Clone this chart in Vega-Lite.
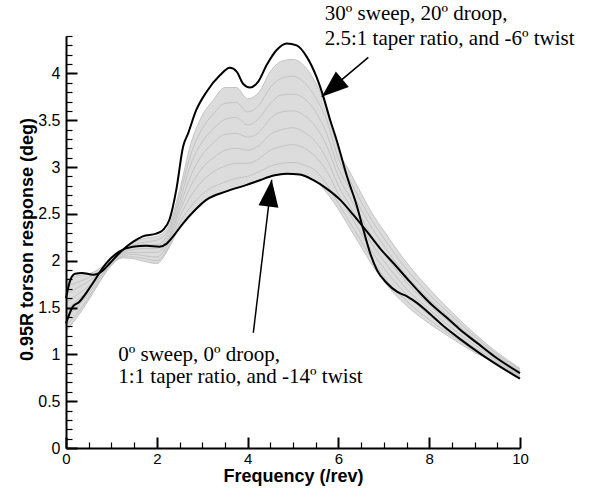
{
  "$schema": "https://vega.github.io/schema/vega-lite/v6.json",
  "width": 454,
  "height": 412,
  "autosize": {"type": "none"},
  "padding": {"left": 66, "top": 36, "right": 69, "bottom": 40},
  "background": "white",
  "config": {"view": {"stroke": null}},
  "resolve": {"axis": {"x": "independent", "y": "independent"}},
  "datasets": {
    "band": [
      {"x": 0, "lo": 1.25, "hi": 1.80, "g1": 1.31, "g2": 1.39, "g3": 1.47, "g4": 1.55, "g5": 1.64, "g6": 1.72},
      {"x": 0.25, "lo": 1.40, "hi": 1.84, "g1": 1.44, "g2": 1.51, "g3": 1.58, "g4": 1.64, "g5": 1.71, "g6": 1.77},
      {"x": 0.5, "lo": 1.58, "hi": 1.86, "g1": 1.61, "g2": 1.65, "g3": 1.69, "g4": 1.73, "g5": 1.78, "g6": 1.82},
      {"x": 0.75, "lo": 1.78, "hi": 1.92, "g1": 1.79, "g2": 1.82, "g3": 1.84, "g4": 1.86, "g5": 1.88, "g6": 1.90},
      {"x": 1.0, "lo": 1.95, "hi": 2.03, "g1": 1.96, "g2": 1.97, "g3": 1.98, "g4": 1.99, "g5": 2.01, "g6": 2.02},
      {"x": 1.25, "lo": 2.03, "hi": 2.12, "g1": 2.04, "g2": 2.05, "g3": 2.07, "g4": 2.08, "g5": 2.09, "g6": 2.11},
      {"x": 1.5, "lo": 2.02, "hi": 2.20, "g1": 2.04, "g2": 2.07, "g3": 2.09, "g4": 2.12, "g5": 2.15, "g6": 2.17},
      {"x": 1.75, "lo": 1.99, "hi": 2.24, "g1": 2.02, "g2": 2.05, "g3": 2.09, "g4": 2.13, "g5": 2.17, "g6": 2.20},
      {"x": 2.0, "lo": 1.97, "hi": 2.26, "g1": 2.00, "g2": 2.04, "g3": 2.09, "g4": 2.13, "g5": 2.17, "g6": 2.22},
      {"x": 2.25, "lo": 2.12, "hi": 2.36, "g1": 2.14, "g2": 2.18, "g3": 2.22, "g4": 2.25, "g5": 2.29, "g6": 2.32},
      {"x": 2.5, "lo": 2.36, "hi": 2.75, "g1": 2.40, "g2": 2.46, "g3": 2.52, "g4": 2.57, "g5": 2.63, "g6": 2.69},
      {"x": 2.75, "lo": 2.50, "hi": 3.25, "g1": 2.58, "g2": 2.69, "g3": 2.80, "g4": 2.91, "g5": 3.03, "g6": 3.14},
      {"x": 3.0, "lo": 2.62, "hi": 3.55, "g1": 2.71, "g2": 2.85, "g3": 2.99, "g4": 3.13, "g5": 3.27, "g6": 3.41},
      {"x": 3.25, "lo": 2.69, "hi": 3.72, "g1": 2.79, "g2": 2.95, "g3": 3.10, "g4": 3.26, "g5": 3.41, "g6": 3.57},
      {"x": 3.5, "lo": 2.73, "hi": 3.85, "g1": 2.84, "g2": 3.01, "g3": 3.18, "g4": 3.35, "g5": 3.51, "g6": 3.68},
      {"x": 3.75, "lo": 2.77, "hi": 3.85, "g1": 2.88, "g2": 3.04, "g3": 3.20, "g4": 3.36, "g5": 3.53, "g6": 3.69},
      {"x": 4.0, "lo": 2.81, "hi": 3.73, "g1": 2.90, "g2": 3.04, "g3": 3.18, "g4": 3.32, "g5": 3.45, "g6": 3.59},
      {"x": 4.25, "lo": 2.85, "hi": 3.80, "g1": 2.95, "g2": 3.09, "g3": 3.23, "g4": 3.37, "g5": 3.52, "g6": 3.66},
      {"x": 4.5, "lo": 2.90, "hi": 4.02, "g1": 3.01, "g2": 3.18, "g3": 3.35, "g4": 3.52, "g5": 3.68, "g6": 3.85},
      {"x": 4.75, "lo": 2.92, "hi": 4.13, "g1": 3.04, "g2": 3.22, "g3": 3.40, "g4": 3.59, "g5": 3.77, "g6": 3.95},
      {"x": 5.0, "lo": 2.93, "hi": 4.15, "g1": 3.05, "g2": 3.24, "g3": 3.42, "g4": 3.60, "g5": 3.78, "g6": 3.97},
      {"x": 5.25, "lo": 2.90, "hi": 4.08, "g1": 3.02, "g2": 3.20, "g3": 3.37, "g4": 3.55, "g5": 3.73, "g6": 3.90},
      {"x": 5.5, "lo": 2.85, "hi": 3.90, "g1": 2.96, "g2": 3.11, "g3": 3.27, "g4": 3.43, "g5": 3.59, "g6": 3.74},
      {"x": 5.75, "lo": 2.72, "hi": 3.62, "g1": 2.81, "g2": 2.95, "g3": 3.08, "g4": 3.22, "g5": 3.35, "g6": 3.49},
      {"x": 6.0, "lo": 2.55, "hi": 3.18, "g1": 2.61, "g2": 2.71, "g3": 2.80, "g4": 2.90, "g5": 2.99, "g6": 3.09},
      {"x": 6.25, "lo": 2.35, "hi": 2.95, "g1": 2.41, "g2": 2.50, "g3": 2.59, "g4": 2.68, "g5": 2.77, "g6": 2.86},
      {"x": 6.5, "lo": 2.15, "hi": 2.72, "g1": 2.21, "g2": 2.29, "g3": 2.38, "g4": 2.46, "g5": 2.55, "g6": 2.63},
      {"x": 6.75, "lo": 1.95, "hi": 2.50, "g1": 2.01, "g2": 2.09, "g3": 2.17, "g4": 2.25, "g5": 2.34, "g6": 2.42},
      {"x": 7.0, "lo": 1.78, "hi": 2.32, "g1": 1.83, "g2": 1.92, "g3": 2.00, "g4": 2.08, "g5": 2.16, "g6": 2.24},
      {"x": 7.5, "lo": 1.52, "hi": 1.98, "g1": 1.57, "g2": 1.64, "g3": 1.70, "g4": 1.77, "g5": 1.84, "g6": 1.91},
      {"x": 8.0, "lo": 1.33, "hi": 1.70, "g1": 1.37, "g2": 1.42, "g3": 1.48, "g4": 1.53, "g5": 1.59, "g6": 1.64},
      {"x": 8.5, "lo": 1.17, "hi": 1.45, "g1": 1.20, "g2": 1.24, "g3": 1.28, "g4": 1.32, "g5": 1.37, "g6": 1.41},
      {"x": 9.0, "lo": 1.02, "hi": 1.22, "g1": 1.04, "g2": 1.07, "g3": 1.10, "g4": 1.13, "g5": 1.16, "g6": 1.19},
      {"x": 9.5, "lo": 0.90, "hi": 1.02, "g1": 0.91, "g2": 0.93, "g3": 0.95, "g4": 0.97, "g5": 0.98, "g6": 1.00},
      {"x": 10, "lo": 0.76, "hi": 0.85, "g1": 0.77, "g2": 0.78, "g3": 0.80, "g4": 0.81, "g5": 0.82, "g6": 0.84}
    ],
    "black": [
      {"c": "a", "x": 0, "y": 1.60}, {"c": "a", "x": 0.1, "y": 1.80}, {"c": "a", "x": 0.2, "y": 1.86},
      {"c": "a", "x": 0.35, "y": 1.87}, {"c": "a", "x": 0.6, "y": 1.85}, {"c": "a", "x": 0.8, "y": 1.89},
      {"c": "a", "x": 0.96, "y": 1.97}, {"c": "a", "x": 1.15, "y": 2.07}, {"c": "a", "x": 1.33, "y": 2.15},
      {"c": "a", "x": 1.5, "y": 2.21}, {"c": "a", "x": 1.69, "y": 2.26}, {"c": "a", "x": 1.99, "y": 2.29},
      {"c": "a", "x": 2.14, "y": 2.33}, {"c": "a", "x": 2.28, "y": 2.44}, {"c": "a", "x": 2.43, "y": 2.76},
      {"c": "a", "x": 2.58, "y": 3.22}, {"c": "a", "x": 2.69, "y": 3.36}, {"c": "a", "x": 2.87, "y": 3.61},
      {"c": "a", "x": 3.09, "y": 3.80}, {"c": "a", "x": 3.39, "y": 3.98}, {"c": "a", "x": 3.61, "y": 4.06},
      {"c": "a", "x": 3.76, "y": 4.02}, {"c": "a", "x": 3.90, "y": 3.89}, {"c": "a", "x": 4.05, "y": 3.85},
      {"c": "a", "x": 4.23, "y": 3.91}, {"c": "a", "x": 4.42, "y": 4.09}, {"c": "a", "x": 4.64, "y": 4.25},
      {"c": "a", "x": 4.86, "y": 4.32}, {"c": "a", "x": 5.08, "y": 4.30}, {"c": "a", "x": 5.30, "y": 4.18},
      {"c": "a", "x": 5.52, "y": 3.96}, {"c": "a", "x": 5.67, "y": 3.75}, {"c": "a", "x": 5.82, "y": 3.50},
      {"c": "a", "x": 5.96, "y": 3.29}, {"c": "a", "x": 6.19, "y": 2.90}, {"c": "a", "x": 6.41, "y": 2.58},
      {"c": "a", "x": 6.55, "y": 2.33}, {"c": "a", "x": 6.70, "y": 2.08}, {"c": "a", "x": 6.85, "y": 1.90},
      {"c": "a", "x": 7.07, "y": 1.76}, {"c": "a", "x": 7.29, "y": 1.67}, {"c": "a", "x": 7.51, "y": 1.62},
      {"c": "a", "x": 7.73, "y": 1.55}, {"c": "a", "x": 7.95, "y": 1.46}, {"c": "a", "x": 8.32, "y": 1.30},
      {"c": "a", "x": 8.69, "y": 1.16}, {"c": "a", "x": 9.06, "y": 1.03}, {"c": "a", "x": 9.43, "y": 0.91},
      {"c": "a", "x": 10, "y": 0.74},
      {"c": "b", "x": 0, "y": 1.33}, {"c": "b", "x": 0.15, "y": 1.51}, {"c": "b", "x": 0.29, "y": 1.56},
      {"c": "b", "x": 0.59, "y": 1.76}, {"c": "b", "x": 0.88, "y": 1.97}, {"c": "b", "x": 1.18, "y": 2.10},
      {"c": "b", "x": 1.47, "y": 2.15}, {"c": "b", "x": 1.77, "y": 2.16}, {"c": "b", "x": 2.06, "y": 2.15},
      {"c": "b", "x": 2.21, "y": 2.18}, {"c": "b", "x": 2.36, "y": 2.26}, {"c": "b", "x": 2.58, "y": 2.40},
      {"c": "b", "x": 2.80, "y": 2.52}, {"c": "b", "x": 3.09, "y": 2.65}, {"c": "b", "x": 3.53, "y": 2.74},
      {"c": "b", "x": 3.98, "y": 2.81}, {"c": "b", "x": 4.27, "y": 2.86}, {"c": "b", "x": 4.57, "y": 2.91},
      {"c": "b", "x": 4.86, "y": 2.93}, {"c": "b", "x": 5.15, "y": 2.92}, {"c": "b", "x": 5.45, "y": 2.86},
      {"c": "b", "x": 5.74, "y": 2.77}, {"c": "b", "x": 6.04, "y": 2.65}, {"c": "b", "x": 6.33, "y": 2.49},
      {"c": "b", "x": 6.63, "y": 2.31}, {"c": "b", "x": 6.92, "y": 2.13}, {"c": "b", "x": 7.22, "y": 1.97},
      {"c": "b", "x": 7.51, "y": 1.81}, {"c": "b", "x": 7.81, "y": 1.65}, {"c": "b", "x": 8.10, "y": 1.51},
      {"c": "b", "x": 8.39, "y": 1.39}, {"c": "b", "x": 8.69, "y": 1.26}, {"c": "b", "x": 9.06, "y": 1.12},
      {"c": "b", "x": 9.43, "y": 0.98}, {"c": "b", "x": 10, "y": 0.80}
    ],
    "arrows": [
      {"x": 6.659, "y": 4.172, "x2": 5.632, "y2": 3.752},
      {"x": 4.126, "y": 1.231, "x2": 4.531, "y2": 2.865}
    ],
    "notes": [
      {"x": 5.70, "y": 4.568, "t": "30º sweep, 20º droop,"},
      {"x": 5.70, "y": 4.309, "t": "2.5:1 taper ratio, and -6º twist"},
      {"x": 1.15, "y": 0.933, "t": "0º sweep, 0º droop,"},
      {"x": 1.15, "y": 0.694, "t": "1:1 taper ratio, and -14º twist"}
    ]
  },
  "layer": [
    {
      "data": {"name": "band"},
      "mark": {"type": "area", "color": "#dcdcdc", "interpolate": "monotone"},
      "encoding": {
        "x": {
          "field": "x", "type": "quantitative",
          "scale": {"domain": [0, 10], "nice": false},
          "axis": {
            "orient": "bottom", "zindex": 1,
            "title": "Frequency (/rev)",
            "values": [0, 2, 4, 6, 8, 10],
            "format": "~r",
            "tickSize": -11, "tickWidth": 2, "tickColor": "black",
            "domainColor": "black", "domainWidth": 2,
            "labelFont": "Liberation Sans", "labelFontSize": 15, "labelColor": "black",
            "labelPadding": 14, "labelFlush": false, "labelOverlap": false,
            "titleFont": "Liberation Sans", "titleFontSize": 18, "titleFontWeight": "bold", "titleColor": "black",
            "titleY": 33, "titleBaseline": "alphabetic",
            "grid": false
          }
        },
        "y": {
          "field": "lo", "type": "quantitative",
          "scale": {"domain": [0, 4.4], "nice": false},
          "axis": {
            "orient": "left", "zindex": 1,
            "title": "0.95R torson response (deg)",
            "values": [0, 0.5, 1, 1.5, 2, 2.5, 3, 3.5, 4],
            "format": "~r",
            "tickSize": -11, "tickWidth": 2, "tickColor": "black",
            "domainColor": "black", "domainWidth": 2,
            "labelFont": "Liberation Sans", "labelFontSize": 16, "labelColor": "black",
            "labelPadding": 17, "labelFlush": false, "labelOverlap": false,
            "titleFont": "Liberation Sans", "titleFontSize": 18, "titleFontWeight": "bold", "titleColor": "black",
            "titleX": -34, "titleY": 203, "titleBaseline": "alphabetic", "titleAngle": 270,
            "grid": false
          }
        },
        "y2": {"field": "hi"}
      }
    },
    {
      "data": {"name": "band"},
      "transform": [{"fold": ["lo", "hi", "g1", "g2", "g3", "g4", "g5", "g6"], "as": ["run", "val"]}],
      "mark": {"type": "line", "color": "#c4c4c4", "strokeWidth": 1, "interpolate": "monotone"},
      "encoding": {
        "x": {
          "field": "x", "type": "quantitative",
          "scale": {"domain": [0, 10], "nice": false},
          "axis": {
            "orient": "bottom", "zindex": 1, "title": null, "labels": false, "domain": false, "grid": false,
            "values": [0.5, 1, 1.5, 2.5, 3, 3.5, 4.5, 5, 5.5, 6.5, 7, 7.5, 8.5, 9, 9.5],
            "tickSize": -6, "tickWidth": 1.2, "tickColor": "black"
          }
        },
        "y": {
          "field": "val", "type": "quantitative",
          "scale": {"domain": [0, 4.4], "nice": false},
          "axis": {
            "orient": "left", "zindex": 1, "title": null, "labels": false, "domain": false, "grid": false,
            "values": [0.1, 0.2, 0.3, 0.4, 0.6, 0.7, 0.8, 0.9, 1.1, 1.2, 1.3, 1.4, 1.6, 1.7, 1.8, 1.9, 2.1, 2.2, 2.3, 2.4, 2.6, 2.7, 2.8, 2.9, 3.1, 3.2, 3.3, 3.4, 3.6, 3.7, 3.8, 3.9, 4.1, 4.2, 4.3, 4.4],
            "tickSize": -6, "tickWidth": 1.2, "tickColor": "black"
          }
        },
        "detail": {"field": "run"}
      }
    },
    {
      "data": {"name": "black"},
      "mark": {"type": "line", "color": "black", "strokeWidth": 2, "interpolate": "monotone"},
      "encoding": {
        "x": {"field": "x", "type": "quantitative", "scale": {"domain": [0, 10], "nice": false}, "axis": null},
        "y": {"field": "y", "type": "quantitative", "scale": {"domain": [0, 4.4], "nice": false}, "axis": null},
        "detail": {"field": "c"}
      }
    },
    {
      "data": {"name": "arrows"},
      "mark": {"type": "rule", "color": "black", "strokeWidth": 1.5},
      "encoding": {
        "x": {"field": "x", "type": "quantitative", "scale": {"domain": [0, 10], "nice": false}, "axis": null},
        "y": {"field": "y", "type": "quantitative", "scale": {"domain": [0, 4.4], "nice": false}, "axis": null},
        "x2": {"field": "x2"},
        "y2": {"field": "y2"}
      }
    },
    {
      "data": {"values": [{"x": 5.632, "y": 3.752}]},
      "mark": {"type": "point", "shape": "M0,0L0.74,2L-0.74,2Z", "filled": true, "color": "black", "opacity": 1, "size": 729, "angle": 229.8},
      "encoding": {
        "x": {"field": "x", "type": "quantitative", "scale": {"domain": [0, 10], "nice": false}, "axis": null},
        "y": {"field": "y", "type": "quantitative", "scale": {"domain": [0, 4.4], "nice": false}, "axis": null}
      }
    },
    {
      "data": {"values": [{"x": 4.531, "y": 2.865}]},
      "mark": {"type": "point", "shape": "M0,0L0.74,2L-0.74,2Z", "filled": true, "color": "black", "opacity": 1, "size": 729, "angle": 6.9},
      "encoding": {
        "x": {"field": "x", "type": "quantitative", "scale": {"domain": [0, 10], "nice": false}, "axis": null},
        "y": {"field": "y", "type": "quantitative", "scale": {"domain": [0, 4.4], "nice": false}, "axis": null}
      }
    },
    {
      "data": {"name": "notes"},
      "mark": {"type": "text", "font": "Liberation Serif", "fontSize": 21, "align": "left", "baseline": "alphabetic", "color": "black"},
      "encoding": {
        "x": {"field": "x", "type": "quantitative", "scale": {"domain": [0, 10], "nice": false}, "axis": null},
        "y": {"field": "y", "type": "quantitative", "scale": {"domain": [0, 4.4], "nice": false}, "axis": null},
        "text": {"field": "t"}
      }
    }
  ]
}
